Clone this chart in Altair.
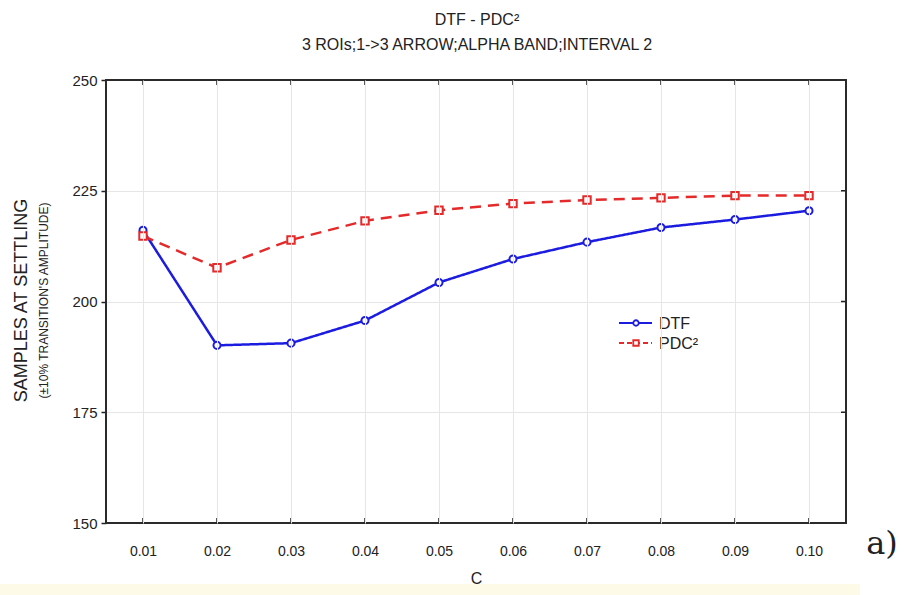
import altair as alt
import pandas as pd

c_values = [0.01, 0.02, 0.03, 0.04, 0.05, 0.06, 0.07, 0.08, 0.09, 0.10]
dtf = [216.1, 190.1, 190.6, 195.7, 204.3, 209.6, 213.4, 216.7, 218.5, 220.5]
pdc2 = [214.8, 207.6, 213.9, 218.2, 220.6, 222.1, 222.9, 223.4, 223.9, 223.9]
y_ticks = [150, 175, 200, 225, 250]
series_names = ["DTF", "PDC²"]

W, H = 740, 443
BLUE = "#1c1ce0"
RED = "#e42a2a"
FONT = "Liberation Sans"

df = pd.DataFrame({
    "C": c_values * 2,
    "value": dtf + pdc2,
    "series": [series_names[0]] * len(c_values) + [series_names[1]] * len(c_values),
})
df_ticks = pd.DataFrame({"C": c_values})
df_y = pd.DataFrame({"v": y_ticks[1:-1]})

xs = alt.Scale(domain=[0.005, 0.105])
ys = alt.Scale(domain=[150, 250])

x_axis = alt.Axis(values=c_values, format=".2f", grid=True, gridColor="#e6e6e6",
                  ticks=False, domain=False, labelFont=FONT, labelFontSize=14,
                  labelColor="#222", labelPadding=21, title="C", titleFont=FONT,
                  titleFontSize=16, titleFontWeight="normal", titleColor="#222",
                  titlePadding=12, zindex=1)
y_axis = alt.Axis(values=y_ticks, grid=True, gridColor="#e6e6e6", tickSize=5,
                  tickColor="#222", tickWidth=1.5, domain=False, labelFont=FONT,
                  labelFontSize=15, labelColor="#222", labelPadding=4, title=None)

base = alt.Chart(df)

lines = base.mark_line(strokeWidth=2.5).encode(
    x=alt.X("C:Q", scale=xs, axis=x_axis),
    y=alt.Y("value:Q", scale=ys, axis=y_axis),
    color=alt.Color("series:N", scale=alt.Scale(domain=series_names, range=[BLUE, RED]), legend=None),
    strokeDash=alt.StrokeDash("series:N", scale=alt.Scale(domain=series_names, range=[[1, 0], [11, 7]]), legend=None),
)
points = base.mark_point(filled=False, fill="white", strokeWidth=2, opacity=1).encode(
    x=alt.X("C:Q", scale=xs),
    y=alt.Y("value:Q", scale=ys),
    color=alt.Color("series:N", scale=alt.Scale(domain=series_names, range=[BLUE, RED]), legend=None),
    shape=alt.Shape("series:N", scale=alt.Scale(domain=series_names, range=["circle", "square"]), legend=None),
    size=alt.Size("series:N", scale=alt.Scale(domain=series_names, range=[50, 55]), legend=None),
)

# inward ticks on bottom, top and right
tick_b = alt.Chart(df_ticks).mark_rule(color="#222", strokeWidth=1.5).encode(
    x=alt.X("C:Q", scale=xs), y=alt.value(H), y2=alt.value(H - 5))
tick_t = alt.Chart(df_ticks).mark_rule(color="#222", strokeWidth=1.5).encode(
    x=alt.X("C:Q", scale=xs), y=alt.value(0), y2=alt.value(5))
tick_r = alt.Chart(df_y).mark_rule(color="#222", strokeWidth=1.5).encode(
    y=alt.Y("v:Q", scale=ys), x=alt.value(W), x2=alt.value(W - 5))

# frame
frame = alt.Chart(pd.DataFrame({"a": [0]})).mark_rect(
    fill=None, stroke="#2a2a2a", strokeWidth=2).encode(
    x=alt.value(0), x2=alt.value(W), y=alt.value(0), y2=alt.value(H))

# pale band at bottom
band = alt.Chart(pd.DataFrame({"a": [0]})).mark_rect(color="#fefae8", clip=False).encode(
    x=alt.value(-106), x2=alt.value(754), y=alt.value(504), y2=alt.value(520))

# titles
t1 = alt.Chart(pd.DataFrame({"t": ["DTF - PDC²"]})).mark_text(
    font=FONT, fontSize=16, color="#222").encode(
    text="t:N", x=alt.value(W / 2 + 1), y=alt.value(-60))
t2 = alt.Chart(pd.DataFrame({"t": ["3 ROIs;1->3 ARROW;ALPHA BAND;INTERVAL 2"]})).mark_text(
    font=FONT, fontSize=16, color="#222").encode(
    text="t:N", x=alt.value(W / 2 + 1), y=alt.value(-35))

yt1 = alt.Chart(pd.DataFrame({"t": ["SAMPLES AT SETTLING"]})).mark_text(
    font=FONT, fontSize=18, color="#222", angle=270).encode(
    text="t:N", x=alt.value(-84), y=alt.value(H / 2 - 1))
yt2 = alt.Chart(pd.DataFrame({"t": ["(±10% TRANSITION'S AMPLITUDE)"]})).mark_text(
    font=FONT, fontSize=12, color="#222", angle=270).encode(
    text="t:N", x=alt.value(-62), y=alt.value(H / 2 - 1))

lab = alt.Chart(pd.DataFrame({"t": ["a)"]})).mark_text(
    font="DejaVu Serif", fontSize=32, color="#222").encode(
    text="t:N", x=alt.value(776), y=alt.value(464))

# legend
leg_layers = []
leg_y = [243, 263]
for name, col, dash, shp, yy in zip(series_names, [BLUE, RED], [[1, 0], [5, 3]], ["circle", "square"], leg_y):
    d = pd.DataFrame({"t": [name]})
    leg_layers.append(alt.Chart(d).mark_rule(color=col, strokeWidth=2, strokeDash=dash).encode(
        x=alt.value(513), x2=alt.value(546), y=alt.value(yy)))
    leg_layers.append(alt.Chart(d).mark_point(shape=shp, color=col, fill="white", filled=False,
                                              strokeWidth=1.8, size=30, opacity=1).encode(
        x=alt.value(530), y=alt.value(yy)))
    leg_layers.append(alt.Chart(d).mark_text(font=FONT, fontSize=16, color="#222", align="left").encode(
        text="t:N", x=alt.value(553), y=alt.value(yy + 1)))

chart = alt.layer(
    band, lines, points, tick_b, tick_t, tick_r, frame, t1, t2, yt1, yt2, lab, *leg_layers
).properties(
    width=W, height=H,
    autosize=alt.AutoSizeParams(type="none"),
    padding={"left": 106, "top": 80, "right": 58, "bottom": 72},
    background="white",
).configure_view(stroke=None)

chart.save("out.html", embed_options={"renderer": "svg", "actions": False})
